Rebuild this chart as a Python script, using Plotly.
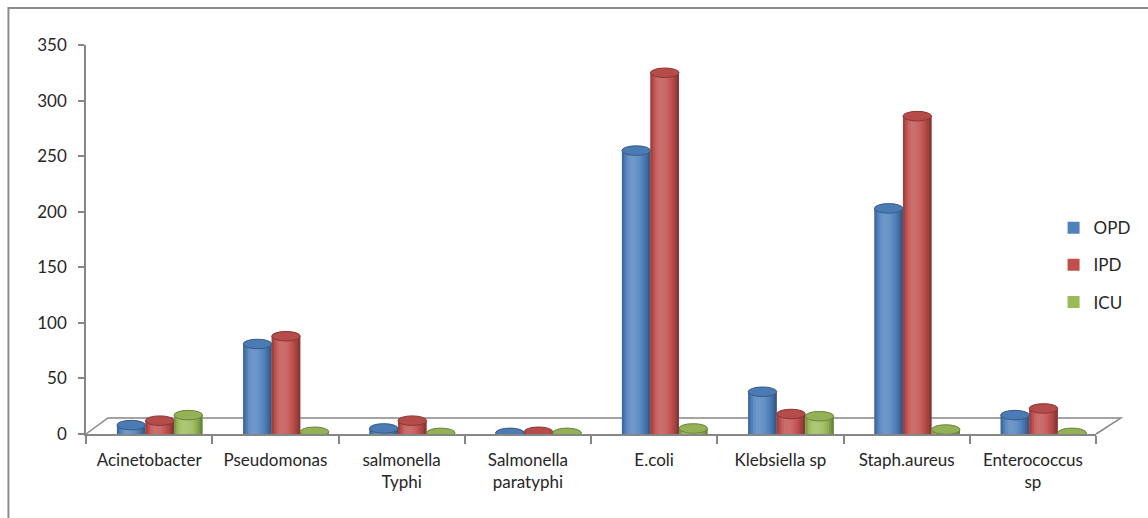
import plotly.graph_objects as go
import math

categories = ["Acinetobacter", "Pseudomonas", "salmonella<br>Typhi", "Salmonella<br>paratyphi",
              "E.coli", "Klebsiella sp", "Staph.aureus", "Enterococcus<br>sp"]
opd = [8, 81, 5, 1, 255, 38, 203, 17]
ipd = [12, 88, 12, 2, 325, 18, 286, 23]
icu = [17, 2, 1, 1, 5, 16, 4, 1]

series_names = ["OPD", "IPD", "ICU"]
series_values = [opd, ipd, icu]
series_colors = ["#4F81BD", "#C0504D", "#9BBB59"]

BAR_W = 0.226
OFFSETS = [-0.255, -0.029, 0.197]
N_SLICES = 12
FONT = "Lato, Carlito, 'Liberation Sans', sans-serif"


def hex_to_rgb(h):
    h = h.lstrip("#")
    return [int(h[i:i + 2], 16) for i in (0, 2, 4)]


def shade(h, s):
    r, g, b = hex_to_rgb(h)
    if s >= 0:
        r, g, b = [c + (255 - c) * s for c in (r, g, b)]
    else:
        r, g, b = [c * (1 + s) for c in (r, g, b)]
    return "rgb(%d,%d,%d)" % (round(r), round(g), round(b))


def profile(t):
    if t < 0.35:
        return 0.18 - 0.45 * ((0.35 - t) / 0.35) ** 2
    return 0.18 - 0.55 * ((t - 0.35) / 0.65) ** 2


fig = go.Figure()
xs = list(range(len(categories)))
shapes = []

for si, (name, vals, col) in enumerate(zip(series_names, series_values, series_colors)):
    off = OFFSETS[si]
    fig.add_trace(go.Bar(
        x=categories, y=vals, name=name, legendgroup=name,
        marker=dict(color=col, line=dict(width=0)),
        width=BAR_W, offset=off, showlegend=True, hoverinfo="y+name",
    ))
    sw = BAR_W / N_SLICES
    for k in range(N_SLICES):
        t = (k + 0.5) / N_SLICES
        fig.add_trace(go.Bar(
            x=categories, y=vals, name=name, legendgroup=name,
            marker=dict(color=shade(col, profile(t)), line=dict(width=0)),
            width=min(sw * 1.25, BAR_W - k * sw), offset=off + k * sw,
            showlegend=False, hoverinfo="skip",
        ))
    for xi, v in zip(xs, vals):
        shapes.append(dict(
            type="circle", xref="x", yref="y", layer="above",
            x0=xi + off, x1=xi + off + BAR_W, y0=v - 4.3, y1=v + 4.3,
            fillcolor=shade(col, -0.05), line=dict(color=shade(col, -0.3), width=1),
        ))

axis_col = "#868686"
shapes.append(dict(type="path", xref="paper", yref="paper", layer="below",
                   path="M 0 0 L 0.0217 0.0411 L 1.0246 0.0411 L 1.0 0",
                   line=dict(color=axis_col, width=1.5)))
shapes.append(dict(type="rect", xref="paper", yref="paper", layer="below",
                   x0=-0.0768, x1=1.2, y0=-0.4, y1=1.095,
                   line=dict(color="#8C8C8C", width=2), fillcolor="rgba(0,0,0,0)"))

fig.update_layout(
    width=1148, height=518,
    margin=dict(l=86, r=46, t=45, b=84),
    paper_bgcolor="white", plot_bgcolor="white",
    barmode="overlay",
    font=dict(family=FONT, size=17, color="#262626"),
    shapes=shapes,
    showlegend=True,
    legend=dict(x=0.958, y=0.434, xanchor="left", yanchor="middle",
                tracegroupgap=12, font=dict(size=17, family=FONT),
                bgcolor="rgba(0,0,0,0)"),
    xaxis=dict(type="category", range=[-0.5, len(categories) - 0.5],
               showline=True, linecolor=axis_col, linewidth=1.5,
               ticks="outside", ticklen=8, tickcolor=axis_col, tickwidth=1.5,
               tickson="boundaries", showgrid=False, zeroline=False,
               ticklabelstandoff=10,
               tickfont=dict(size=17, family=FONT, color="#262626")),
    yaxis=dict(range=[0, 350], dtick=50, showline=True, linecolor=axis_col, linewidth=1.5,
               ticks="outside", ticklen=6, tickcolor=axis_col, tickwidth=1.5,
               showgrid=False, zeroline=False, ticklabelstandoff=8,
               tickfont=dict(size=17, family=FONT, color="#262626")),
)

fig.write_html("out.html")
